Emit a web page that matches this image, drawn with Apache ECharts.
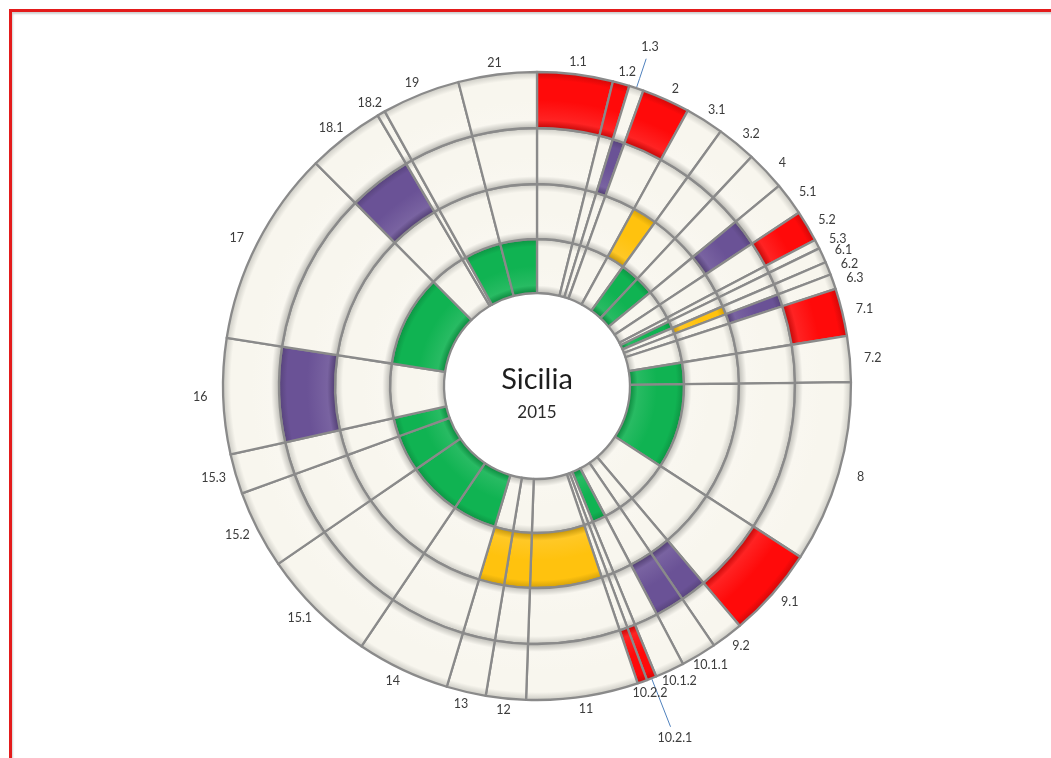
<!DOCTYPE html>
<html>
<head>
<meta charset="utf-8">
<script src="https://cdn.jsdelivr.net/npm/echarts@6/dist/echarts.min.js"></script>
<style>
  html, body { margin: 0; padding: 0; background: #ffffff; overflow: hidden; }
  #frame {
    position: absolute; left: 9px; top: 9px; width: 1200px; height: 900px;
    border-top: 3px solid #e31b1b; border-left: 3px solid #e31b1b;
    box-shadow: inset 1px 2px 2px rgba(120,120,120,0.35);
  }
  #chart { position: absolute; left: 0; top: 0; width: 1051px; height: 758px; }
</style>
</head>
<body>
<div id="frame"></div>
<div id="chart"></div>
<script>
// Measures, clockwise from twelve o'clock
const categories = ['1.1','1.2','1.3','2','3.1','3.2','4','5.1','5.2','5.3','6.1','6.2','6.3','7.1','7.2','8','9.1','9.2','10.1.1','10.1.2','10.2.1','10.2.2','11','12','13','14','15.1','15.2','15.3','16','17','18.1','18.2','19','21'];
// Share of each measure (angular weight of its slice)
const shares = [14,3.1,2.7,8.9,7.1,7.3,7.3,6.1,5.8,1.7,2.8,2.4,2.8,8.8,8.5,33.7,16.8,5.9,6.6,5.4,1.8,1.8,20.7,7.4,7.3,17.3,21.5,14.5,7.4,21.4,36.4,14.3,1.5,14.5,14.5];

// Highlighted measures in each ring, inner to outer
const ring1Green  = ['3.2','4','6.1','7.2','8','10.1.2','14','15.1','15.2','15.3','17','19','21'];
const ring2Yellow = ['3.1','6.2','11','12','13'];
const ring3Purple = ['1.3','5.1','6.3','9.2','10.1.1','16','18.1'];
const ring4Red    = ['1.1','1.2','2','5.2','7.1','9.1','10.2.1','10.2.2'];

const title = 'Sicilia';
const year = '2015';

// layout
const CX = 537, CY = 386, R = 314;
const rings = [[93,147],[147,202],[202,258],[258,314]];
const CREAM = '#F8F6EE';
const ringDefs = [
  { hl: ring1Green,  color: '#10B352' },
  { hl: ring2Yellow, color: '#FFC20E' },
  { hl: ring3Purple, color: '#6A5296' },
  { hl: ring4Red,    color: '#FF0A0A' }
];
const leaderLabels = { '1.3': 357, '10.2.1': 378 };

function shade(hex, f) {
  const n = parseInt(hex.slice(1), 16);
  let r = (n >> 16) & 255, g = (n >> 8) & 255, b = n & 255;
  const t = f < 0 ? 0 : 255, p = Math.abs(f);
  r = Math.round(r + (t - r) * p); g = Math.round(g + (t - g) * p); b = Math.round(b + (t - b) * p);
  return 'rgb(' + r + ',' + g + ',' + b + ')';
}

// soft bevel across the ring width
function bevel(color, r0, r1) {
  const w = r1 - r0;
  return {
    type: 'radial', x: CX, y: CY, r: R, global: true,
    colorStops: [
      { offset: r0 / R, color: shade(color, -0.24) },
      { offset: (r0 + 0.14 * w) / R, color: shade(color, 0.10) },
      { offset: (r0 + 0.5 * w) / R, color: color },
      { offset: (r1 - 0.14 * w) / R, color: color },
      { offset: r1 / R, color: shade(color, -0.18) }
    ]
  };
}

const total = shares.reduce((a, b) => a + b, 0);
const midAngle = [];
let acc = 0;
shares.forEach(v => { midAngle.push((acc + v / 2) / total * 2 * Math.PI); acc += v; });

const series = ringDefs.map((def, k) => {
  const [r0, r1] = rings[k];
  const outer = k === rings.length - 1;
  return {
    type: 'pie',
    center: [CX, CY],
    radius: [r0, r1],
    startAngle: 90,
    clockwise: true,
    silent: true,
    avoidLabelOverlap: false,
    animation: false,
    itemStyle: { borderColor: '#8a8a8a', borderWidth: 2.3 },
    label: outer ? {
      show: true, position: 'outside', color: '#3c3c3c',
      fontFamily: 'Lato, "Open Sans", sans-serif', fontSize: 12.5
    } : { show: false },
    labelLine: { show: false },
    labelLayout: outer ? function (p) {
      const name = categories[p.dataIndex];
      const a = midAngle[p.dataIndex];
      const s = Math.sin(a), c = Math.cos(a);
      if (leaderLabels[name]) {
        const rl = leaderLabels[name];
        return {
          x: CX + rl * s, y: CY - rl * c, align: 'center', verticalAlign: 'middle',
          labelLinePoints: [
            [CX + (R - 8) * s, CY - (R - 8) * c],
            [CX + (R + 10) * s, CY - (R + 10) * c],
            [CX + (rl - 12) * s, CY - (rl - 12) * c]
          ]
        };
      }
      return { x: CX + 337 * s, y: CY - 326 * c, align: 'center', verticalAlign: 'middle' };
    } : undefined,
    data: categories.map((name, i) => {
      const col = def.hl.indexOf(name) >= 0 ? def.color : CREAM;
      const item = { name: name, value: shares[i], itemStyle: { color: bevel(col, r0, r1) } };
      if (outer && leaderLabels[name]) {
        item.labelLine = { show: true, lineStyle: { color: '#4f81bd', width: 1 } };
      }
      return item;
    })
  };
});

const chart = echarts.init(document.getElementById('chart'), null, { renderer: 'canvas' });
chart.setOption({
  backgroundColor: 'transparent',
  animation: false,
  series: series,
  graphic: [
    { type: 'text', x: CX, y: CY - 6, silent: true,
      style: { text: title, textAlign: 'center', textVerticalAlign: 'middle',
               font: '29px Lato, "Open Sans", sans-serif', fill: '#1e1e1e' } },
    { type: 'text', x: CX, y: CY + 27, silent: true,
      style: { text: year, textAlign: 'center', textVerticalAlign: 'middle',
               font: '17px Lato, "Open Sans", sans-serif', fill: '#2a2a2a' } }
  ]
});
</script>
</body>
</html>
